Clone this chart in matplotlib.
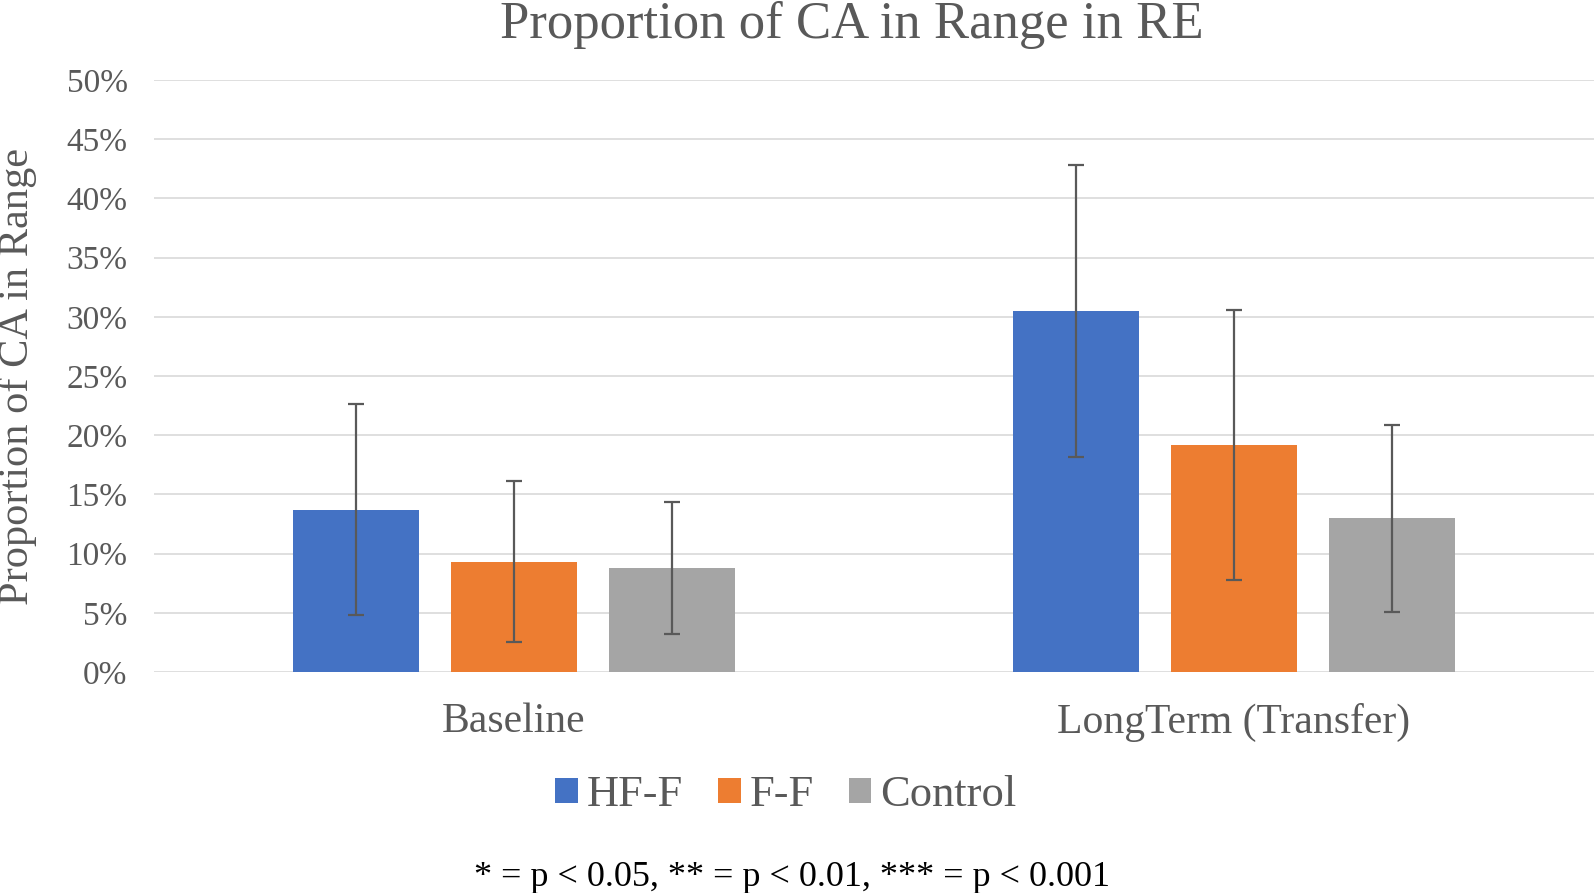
import matplotlib.pyplot as plt
import numpy as np
from matplotlib.ticker import PercentFormatter

# Data (proportions)
categories = ['Baseline', 'LongTerm (Transfer)']
groups = ['HF-F', 'F-F', 'Control']
hff = [0.137, 0.305]
ff = [0.093, 0.192]
control = [0.088, 0.130]
hff_err = [0.089, 0.123]
ff_err = [0.068, 0.114]
control_err = [0.056, 0.079]

colors = ['#4472C4', '#ED7D31', '#A5A5A5']
text_gray = '#595959'

plt.rcParams['font.family'] = ['Liberation Serif', 'DejaVu Serif']

fig = plt.figure(figsize=(15.94, 8.93), dpi=100)
ax = fig.add_axes([154 / 1594, 1 - 672 / 893, 1440 / 1594, 592 / 893])

x = np.arange(len(categories))
width = 0.175
step = 0.219
series = [hff, ff, control]
errors = [hff_err, ff_err, control_err]

for i, (vals, errs) in enumerate(zip(series, errors)):
    pos = x + (i - 1) * step
    ax.bar(pos, vals, width, color=colors[i], label=groups[i], zorder=2)
    ax.errorbar(pos, vals, yerr=errs, fmt='none', ecolor=text_gray,
                elinewidth=1.6, capsize=5.5, capthick=1.6, zorder=3)

ax.set_xlim(-0.5, 1.5)
ax.set_ylim(0, 0.5)
ax.set_yticks(np.arange(0, 0.51, 0.05))
ax.yaxis.set_major_formatter(PercentFormatter(1.0, decimals=0))
ax.grid(True, axis='y', color='#D9D9D9', linewidth=1.2, zorder=0)
ax.set_axisbelow(True)
for s in ax.spines.values():
    s.set_visible(False)

ax.set_xticks(x)
ax.set_xticklabels(categories)
ax.tick_params(axis='y', length=0, pad=19, labelsize=24, labelcolor=text_gray)
ax.tick_params(axis='x', length=0, pad=22, labelsize=30, labelcolor=text_gray)

# Title, axis label, legend and footnote
fig.text(852 / 1594, 1 - 25 / 893, 'Proportion of CA in Range in RE',
         fontsize=38, color=text_gray, ha='center', va='center')
fig.text(18 / 1594, 1 - 376 / 893, 'Proportion of CA in Range',
         fontsize=30.5, color=text_gray, rotation=90, ha='center', va='center')

leg = fig.legend(loc='center', bbox_to_anchor=(786 / 1594, 1 - 795 / 893),
                 ncol=3, frameon=False, fontsize=32, handlelength=0.5,
                 handleheight=0.5, handletextpad=0.2, columnspacing=0.8)
for t in leg.get_texts():
    t.set_color(text_gray)

fig.text(792 / 1594, 1 - 877 / 893, '* = p < 0.05, ** = p < 0.01, *** = p < 0.001',
         fontsize=26, color='black', ha='center', va='center')

plt.savefig('out.png', dpi=100)
